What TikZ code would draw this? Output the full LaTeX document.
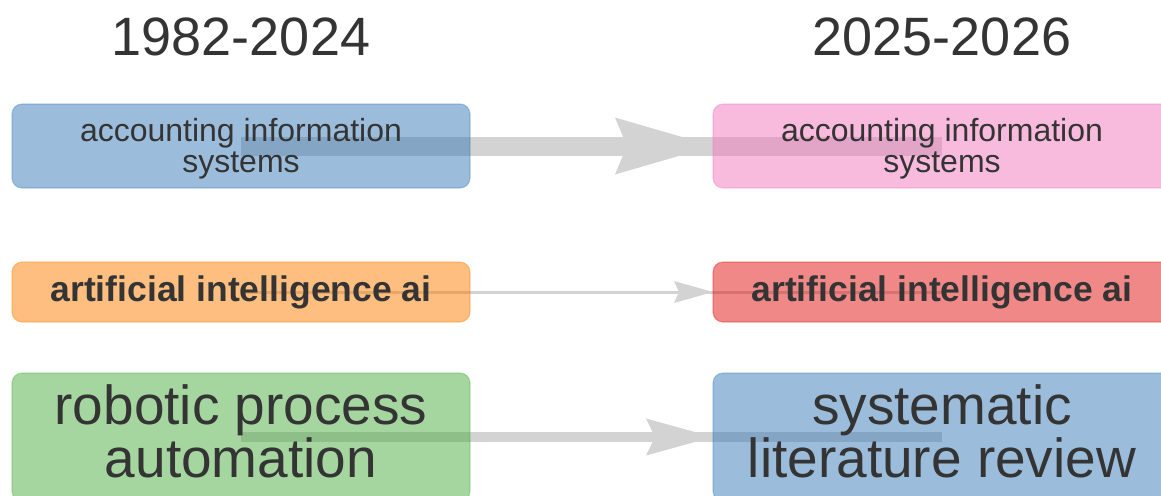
\documentclass[tikz,border=0pt]{standalone}
\usepackage{fontspec}
\setmainfont{Liberation Sans}
\usetikzlibrary{calc}
\pgfdeclarelayer{background}
\pgfsetlayers{background,main}
\definecolor{txt}{RGB}{52,52,52}
\definecolor{cblue}{RGB}{55,123,183}
\definecolor{cpink}{RGB}{241,119,189}
\definecolor{corange}{RGB}{251,125,0}
\definecolor{cred}{RGB}{225,17,17}
\definecolor{cgreen}{RGB}{77,173,65}
\definecolor{cedge}{RGB}{211,211,211}
\tikzset{
  box/.style={rounded corners=5pt, inner sep=0pt, outer sep=0pt, fill opacity=0.5, draw opacity=0.35, line width=0.6pt, minimum width=229pt},
  rowA/.style={box, minimum height=42pt},
  rowB/.style={box, minimum height=30pt},
  rowC/.style={box, minimum height=64pt},
  lblA/.style={text=txt, align=center, inner sep=0pt, font=\fontsize{16}{15.5}\selectfont, yshift=-1.2pt},
  lblB/.style={text=txt, inner sep=0pt, font=\fontsize{17.75}{20}\selectfont\bfseries},
  lblC/.style={text=txt, align=center, inner sep=0pt, font=\fontsize{27.5}{26.5}\selectfont, yshift=2.8pt},
  yeartitle/.style={text=txt, anchor=base, inner sep=0pt, font=\fontsize{27}{30}\selectfont},
  conn/.style={draw=cedge, line cap=butt},
  connhead/.style={fill=cedge}
}
\begin{document}
\begin{tikzpicture}[x=0.5pt,y=-0.5pt]
\useasboundingbox (0,0) rectangle (1161,495);
\node[yeartitle] (t1) at (241,55) {1982-2024};
\node[yeartitle] (t2) at (942,55) {2025-2026};
% boxes
\node[rowA, fill=cblue, draw=cblue] (a1) at (241,146) {};
\node[rowA, fill=cpink, draw=cpink] (b1) at (942,146) {};
\node[rowB, fill=corange, draw=corange] (a2) at (241,292) {};
\node[rowB, fill=cred, draw=cred] (b2) at (942,292) {};
\node[rowC, fill=cgreen, draw=cgreen] (a3) at (241,437) {};
\node[rowC, fill=cblue, draw=cblue] (b3) at (942,437) {};
% labels
\node[lblA] (la1) at (a1.center) {accounting information\\systems};
\node[lblA] (lb1) at (b1.center) {accounting information\\systems};
\node[lblB] (la2) at (a2.center) {artificial intelligence ai};
\node[lblB] (lb2) at (b2.center) {artificial intelligence ai};
\node[lblC] (la3) at (a3.center) {robotic process\\automation};
\node[lblC] (lb3) at (b3.center) {systematic\\literature review};
% connectors
\begin{pgfonlayer}{background}
\draw[conn, line width=9.5pt] (a1.center) -- (b1.center);
\fill[connhead] (b1.west) -- ($(b1.west)+(-98,-28.5)$) -- ($(b1.west)+(-86,0)$) -- ($(b1.west)+(-98,28.5)$) -- cycle;
\draw[conn, line width=1.5pt] (a2.center) -- (b2.center);
\fill[connhead] (b2.west) -- ($(b2.west)+(-39,-11)$) -- ($(b2.west)+(-34,0)$) -- ($(b2.west)+(-39,11)$) -- cycle;
\draw[conn, line width=5pt] (a3.center) -- (b3.center);
\fill[connhead] (b3.west) -- ($(b3.west)+(-67,-18.5)$) -- ($(b3.west)+(-58,0)$) -- ($(b3.west)+(-67,18.5)$) -- cycle;
\end{pgfonlayer}
\end{tikzpicture}
\end{document}
